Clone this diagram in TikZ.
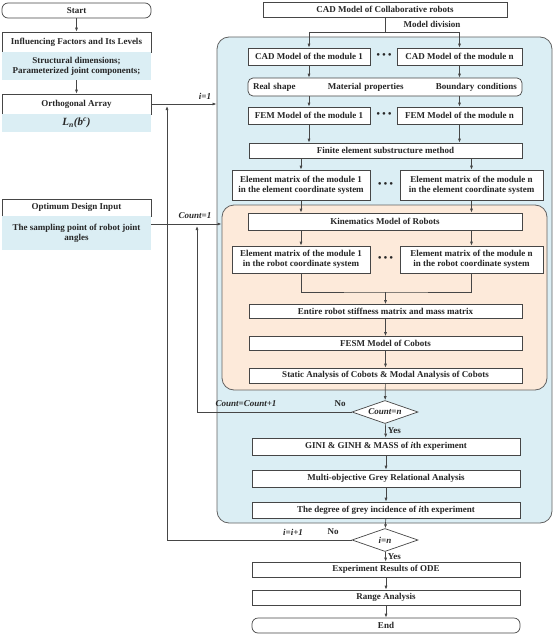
\documentclass[tikz,border=0pt]{standalone}
\usepackage{fontspec}
\setmainfont{Liberation Serif}
\usetikzlibrary{arrows.meta,shapes.geometric}
\definecolor{panelblue}{RGB}{219,238,244}
\definecolor{panelorange}{RGB}{253,234,218}
\definecolor{linegray}{RGB}{70,70,70}

\begin{document}
\begin{tikzpicture}[x=1pt, y=-1pt,
    every node/.style={font=\bfseries\fontsize{9}{10}\selectfont, text=black!85},
    box/.style={draw=linegray, fill=white, line width=0.7pt, inner sep=1pt, align=center},
    term/.style={box, rounded corners=6pt},
    note/.style={fill=panelblue, inner sep=1pt, align=center, minimum width=149pt},
    panel/.style={draw=linegray!85, line width=0.8pt, rounded corners=12pt},
    decision/.style={diamond, draw=linegray, fill=white, line width=0.7pt, aspect=2.9, inner sep=0pt, minimum width=66pt, minimum height=23pt},
    dots/.style={font=\fontsize{11}{11}\selectfont, inner sep=0pt},
    lbl/.style={inner sep=1pt},
    link/.style={draw=linegray, line width=0.7pt},
    arr/.style={link, -{Latex[length=4pt,width=3pt]}}
  ]
  \useasboundingbox (0,0) rectangle (554,634);

  % containers
  \node[panel, fill=panelblue, minimum width=335pt, minimum height=486pt] (bluepanel) at (384.5,280) {};
  \node[panel, fill=panelorange, minimum width=325pt, minimum height=185pt] (orangepanel) at (384.5,297.5) {};

  % left column
  \node[term, minimum width=149pt, minimum height=15pt] (start) at (76.5,10.5) {Start};
  \node[box, minimum width=149pt, minimum height=20pt] (factors) at (76.5,42) {Influencing Factors and Its Levels};
  \node[note, minimum height=28pt] (factnote) at (76.5,66) {Structural dimensions;\\Parameterized joint components;};
  \node[box, minimum width=149pt, minimum height=20pt] (ortho) at (76.5,104) {Orthogonal Array};
  \node[note, minimum height=18pt] (orthnote) at (76.5,123) {\fontsize{11}{12}\selectfont\itshape L\textsubscript{n}(b\textsuperscript{c})};
  \node[box, minimum width=149pt, minimum height=17pt] (optin) at (76.5,207.5) {Optimum Design Input};
  \node[note, minimum height=34pt] (optnote) at (76.5,233) {The sampling point of robot joint\\angles};

  % modelling chain
  \node[box, minimum width=244pt, minimum height=15pt] (topcad) at (385,9.5) {CAD Model of Collaborative robots};
  \node[box, minimum width=122pt, minimum height=17pt] (cad1) at (309,56.5) {CAD Model of the module 1};
  \node[box, minimum width=125pt, minimum height=17pt] (cadn) at (459.5,56.5) {CAD Model of the module n};
  \node[dots] (dotsa) at (384,56.5) {\textbullet\,\textbullet\,\textbullet};
  \node[term, minimum width=274pt, minimum height=18pt, text width=264pt, rounded corners=5pt] (props) at (385,87)
    {Real shape\hskip0pt plus1fill Material properties\hskip0pt plus1fill Boundary conditions};
  \node[box, minimum width=122pt, minimum height=17pt] (fem1) at (309,115.5) {FEM Model of the module 1};
  \node[box, minimum width=125pt, minimum height=17pt] (femn) at (459.5,115.5) {FEM Model of the module n};
  \node[dots] (dotsb) at (384,115.5) {\textbullet\,\textbullet\,\textbullet};
  \node[box, minimum width=273pt, minimum height=15pt] (fesub) at (385.5,150.5) {Finite element substructure method};
  \node[box, minimum width=138pt, minimum height=30pt] (elem1) at (301,185) {Element matrix of the module 1\\in the element coordinate system};
  \node[box, minimum width=143pt, minimum height=30pt] (elemn) at (471.5,185) {Element matrix of the module n\\in the element coordinate system};
  \node[dots] (dotsc) at (385.5,185) {\textbullet\,\textbullet\,\textbullet};

  % kinematics block
  \node[box, minimum width=274pt, minimum height=17pt] (kine) at (385,221.5) {Kinematics Model of Robots};
  \node[box, minimum width=138pt, minimum height=27pt] (robot1) at (301,259.5) {Element matrix of the module 1\\in the robot coordinate system};
  \node[box, minimum width=143pt, minimum height=27pt] (robotn) at (471.5,259.5) {Element matrix of the module n\\in the robot coordinate system};
  \node[dots] (dotsd) at (385.5,259.5) {\textbullet\,\textbullet\,\textbullet};
  \node[box, minimum width=273pt, minimum height=14pt] (entire) at (385.5,311.5) {Entire robot stiffness matrix and mass matrix};
  \node[box, minimum width=273pt, minimum height=14pt] (fesm) at (385.5,343.5) {FESM Model of Cobots};
  \node[box, minimum width=273pt, minimum height=15pt] (static) at (385.5,375.5) {Static Analysis of Cobots \& Modal Analysis of Cobots};

  % evaluation
  \node[decision] (cnt) at (385,412) {\itshape Count=n};
  \node[box, minimum width=268pt, minimum height=17pt] (gini) at (386,446.5) {GINI \& GINH \& MASS of \textit{i}th experiment};
  \node[box, minimum width=268pt, minimum height=17pt] (multi) at (386,478.5) {Multi-objective Grey Relational Analysis};
  \node[box, minimum width=268pt, minimum height=16pt] (degree) at (386,510) {The degree of grey incidence of \textit{i}th experiment};
  \node[decision] (idec) at (385,540) {\itshape i=n};
  \node[box, minimum width=268pt, minimum height=15pt] (results) at (386,569.5) {Experiment Results of ODE};
  \node[box, minimum width=268pt, minimum height=15pt] (range) at (386,597.5) {Range Analysis};
  \node[term, minimum width=268pt, minimum height=15pt] (finish) at (386,625.5) {End};

  % connectors, left
  \draw[arr] (start) -- (factors);
  \draw[arr] (factnote) -- (ortho);
  \draw[arr] (ortho.east) -- (ortho.east -| bluepanel.west);
  \node[lbl] (ione) at (205,96) {\itshape i=1};
  \draw[arr] ([yshift=9pt]optnote.east) -- ([yshift=9pt]optnote.east -| orangepanel.west);
  \node[lbl] (countone) at (195,216) {\itshape Count=1};

  % connectors, model division
  \coordinate (split) at (385,32);
  \draw[link] (topcad) -- (split);
  \draw[arr] (split) -| (cad1);
  \draw[arr] (split) -| (cadn);
  \node[lbl] (division) at (432,24) {Model division};
  \draw[arr] (cad1) -- (cad1 |- props.north);
  \draw[arr] (cadn) -- (cadn |- props.north);
  \draw[arr] (props.south -| fem1) -- (fem1);
  \draw[arr] (props.south -| femn) -- (femn);
  \draw[arr] (fem1) -- (fem1 |- fesub.north);
  \draw[arr] (femn) -- (femn |- fesub.north);
  \draw[arr] (fesub.south -| elem1) -- (elem1);
  \draw[arr] (fesub.south -| elemn) -- (elemn);
  \draw[arr] (elem1) -- (elem1 |- kine.north);
  \draw[arr] (elemn) -- (elemn |- kine.north);
  \draw[arr] (kine.south -| robot1) -- (robot1);
  \draw[arr] (kine.south -| robotn) -- (robotn);
  \coordinate (merge) at (385.5,292);
  \draw[link] (robot1) |- (merge) -| (robotn);
  \draw[arr] (merge) -- (entire);
  \draw[arr] (entire) -- (fesm);
  \draw[arr] (fesm) -- (static);
  \draw[arr] (static) -- (cnt);

  % connectors, evaluation
  \draw[arr] (cnt) -- node[lbl, right=1pt] {Yes} (gini);
  \draw[arr] (gini) -- (multi);
  \draw[arr] (multi) -- (degree);
  \draw[arr] (degree) -- (idec);
  \draw[arr] (idec) -- node[lbl, right=1pt] {Yes} (results);
  \draw[arr] (results) -- (range);
  \draw[arr] (range) -- (finish);

  % loops
  \coordinate (cntloop) at (197,226);
  \draw[arr] (cnt.west) -| (cntloop);
  \node[lbl] (cntinc) at (246,404) {\itshape Count=Count+1};
  \node[lbl] (cntno) at (340,404) {No};
  \coordinate (iloop) at (167,106);
  \draw[arr] (idec.west) -| (iloop);
  \node[lbl] (iinc) at (293,532) {\itshape i=i+1};
  \node[lbl] (ino) at (333,532) {No};
\end{tikzpicture}
\end{document}
